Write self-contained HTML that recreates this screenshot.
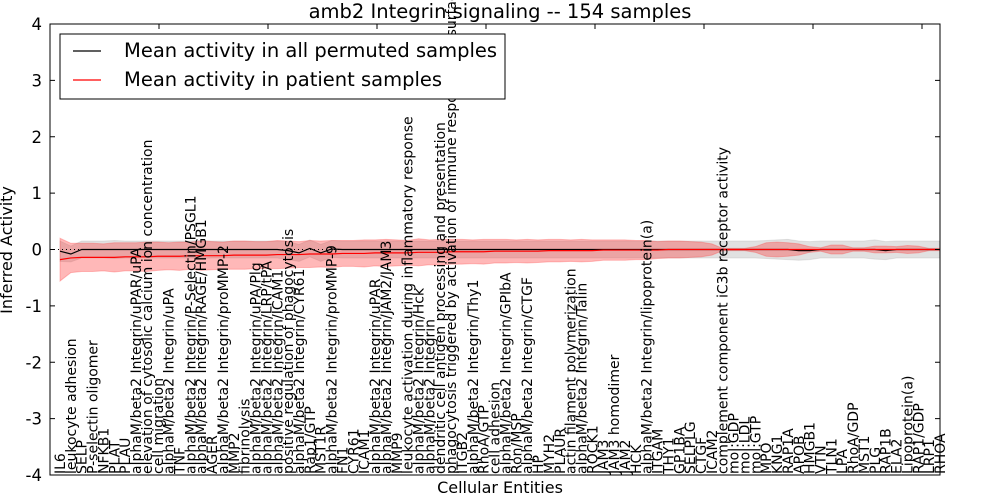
<!DOCTYPE html>
<html><head><meta charset="utf-8"><style>
body{margin:0;background:#fff;}
svg{display:block;font-family:"DejaVu Sans","Liberation Sans",sans-serif;font-stretch:normal;}
</style></head><body>
<svg id="chart" width="1000" height="500" style="overflow:visible"></svg>
<script>
const labels=["IL6","leukocyte adhesion","SELP","P-selectin oligomer","NFKB1","PLAT","PLAU","alphaM/beta2 Integrin/uPAR/uPA","elevation of cytosolic calcium ion concentration","cell migration","alphaM/beta2 Integrin/uPA","TNF","alphaM/beta2 Integrin/P-Selectin/PSGL1","alphaM/beta2 Integrin/RAGE/HMGB1","AGER","alphaM/beta2 Integrin/proMMP-2","MMP2","fibrinolysis","alphaM/beta2 Integrin/uPA/Plg","alphaM/beta2 Integrin/LRP/tPA","alphaM/beta2 Integrin/ICAM1","positive regulation of phagocytosis","alphaM/beta2 Integrin/CYR61","Rap1/GTP","MST1R","alphaM/beta2 Integrin/proMMP-9","FN1","CYR61","ICAM1","alphaM/beta2 Integrin/uPAR","alphaM/beta2 Integrin/JAM2/JAM3","MMP9","leukocyte activation during inflammatory response","alphaM/beta2 Integrin/Hck","alphaM/beta2 Integrin","dendritic cell antigen processing and presentation","phagocytosis triggered by activation of immune response cell surface activating receptor","ITGB2","alphaM/beta2 Integrin/Thy1","RhoA/GTP","cell adhesion","alphaM/beta2 Integrin/GPIbA","Ron/MSP","alphaM/beta2 Integrin/CTGF","HP","MYH2","PLAUR","actin filament polymerization","alphaM/beta2 Integrin/Talin","ROCK1","JAM3","JAM3 homodimer","JAM2","HCK","alphaM/beta2 Integrin/lipoprotein(a)","ITGAM","THY1","GP1BA","SELPLG","CTGF","ICAM2","complement component iC3b receptor activity","mol:GDP","mol:LDL","mol:GTP","MPO","KNG1","RAP1A","APOB","HMGB1","VTN","TLN1","LPA","RhoA/GDP","MST1","PLG","RAP1B","ELA2","Lipoprotein(a)","RAP1/GDP","LRP1","RHOA"];
const permMean=[-0.03,-0.08,0,0,0,0,0,0,0,0, 0,0,0,0,0,0,0,0,0,0, 0,-0.02,-0.06,0.02,-0.06,0.01,0,0,0,0, 0,0,0,0,0,0,0,0,0,0, 0,0,0,0,0,0,0,0,0,0, 0,0,0,0,0,0,0,0,0,0, 0,0,0,0,0,0,0,0,-0.02,-0.02, 0,0,0,0,0,0,-0.02,0,0,0, 0,0];
const permStd=[0.18,0.14,0.15,0.15,0.15,0.16,0.15,0.15,0.15,0.15, 0.15,0.15,0.15,0.16,0.15,0.15,0.15,0.15,0.15,0.15, 0.15,0.16,0.15,0.15,0.15,0.15,0.15,0.15,0.15,0.15, 0.15,0.15,0.15,0.15,0.15,0.15,0.15,0.15,0.15,0.15, 0.15,0.15,0.15,0.15,0.15,0.15,0.15,0.15,0.15,0.15, 0.15,0.15,0.15,0.15,0.15,0.15,0.15,0.15,0.15,0.15, 0.15,0.15,0.15,0.15,0.15,0.16,0.17,0.18,0.17,0.16, 0.15,0.15,0.15,0.15,0.15,0.17,0.16,0.15,0.15,0.15, 0.15,0.15];
const patMean=[-0.18,-0.15,-0.14,-0.14,-0.14,-0.14,-0.13,-0.13,-0.13,-0.12, -0.12,-0.12,-0.11,-0.11,-0.11,-0.11,-0.1,-0.1,-0.1,-0.1, -0.09,-0.09,-0.09,-0.08,-0.08,-0.08,-0.07,-0.07,-0.07,-0.06, -0.06,-0.06,-0.06,-0.05,-0.05,-0.05,-0.04,-0.04,-0.04,-0.04, -0.03,-0.03,-0.03,-0.03,-0.03,-0.02,-0.02,-0.02,-0.02,-0.02, -0.01,-0.01,-0.01,-0.01,-0.01,-0.01,0,0,0,0, 0,0,0,0,0,0,0,0,0,0, 0,0,0,0,0,0,0,0,0,0, 0,0];
const patStd=[0.38,0.26,0.25,0.25,0.24,0.26,0.25,0.25,0.26,0.25, 0.24,0.25,0.24,0.26,0.25,0.24,0.25,0.25,0.24,0.24, 0.25,0.24,0.23,0.24,0.23,0.24,0.23,0.23,0.24,0.23, 0.24,0.23,0.22,0.24,0.22,0.23,0.22,0.22,0.21,0.22, 0.21,0.21,0.2,0.21,0.2,0.2,0.2,0.19,0.2,0.19, 0.18,0.18,0.18,0.17,0.17, 0.15,0.15,0.15,0.14,0.13,0.1,0.02,0.02,0.02,0.05, 0.12,0.13,0.12,0.1,0.05,0.03,0.08,0.08,0.03,0.03, 0.06,0.06,0.05,0.07,0.06,0.02,0.02];
const yTicks=[-4,-3,-2,-1,0,1,2,3,4];

const NS="http://www.w3.org/2000/svg";
const svg=document.getElementById('chart');
const L=50,R=940,T=24,B=475;
const n=labels.length;
const x=i=>60+i*(880/(n-1));
const y=v=>T+(4-v)*(B-T)/8;
function mk(tag,attrs,parent){const e=document.createElementNS(NS,tag);for(const k in attrs)e.setAttribute(k,attrs[k]);(parent||svg).appendChild(e);return e;}
function band(mean,std,fill,op,name){
  let d="M"+mean.map((m,i)=>x(i)+","+y(m+std[i])).join("L");
  for(let i=mean.length-1;i>=0;i--)d+="L"+x(i)+","+y(mean[i]-std[i]);
  const p=mk('path',{d:d+"Z",fill:fill,'fill-opacity':op,stroke:fill,'stroke-opacity':op*0.8,'stroke-width':1});
  
  
}
function line(mean,col,name){
  const p=mk('path',{d:"M"+mean.map((m,i)=>x(i)+","+y(m)).join("L"),fill:'none',stroke:col,'stroke-width':1.2});
  
  
}
band(permMean,permStd,'#aaaaaa',0.35,'permuted-band');
band(patMean,patStd,'#ff3333',0.35,'patient-band');
const z=mk('line',{x1:L,x2:R,y1:y(0),y2:y(0),stroke:'#000','stroke-dasharray':'1,3','stroke-width':1});


line(permMean,'#000','permuted-mean-line');
line(patMean,'#ff0000','patient-mean-line');
const fr=mk('rect',{x:L,y:T,width:R-L,height:B-T,fill:'none',stroke:'#000','stroke-width':1});


yTicks.forEach(v=>{
  mk('line',{x1:L,x2:L+5,y1:y(v),y2:y(v),stroke:'#000'});
  mk('line',{x1:R-5,x2:R,y1:y(v),y2:y(v),stroke:'#000'});
  const t=mk('text',{x:L-8,y:y(v)+6,'text-anchor':'end','font-size':16.5});
  t.textContent=v;
  
  
});
for(let tx=L+109;tx<R;tx+=109){mk('line',{x1:tx,x2:tx,y1:T,y2:T+5,stroke:'#000'});}
labels.forEach((s,i)=>{
  const t=mk('text',{transform:`translate(${x(i)+5},${B-1}) rotate(-90)`,'font-size':14});
  t.textContent=s;
  
  
});
const lg=mk('g',{});


mk('rect',{x:60,y:34,width:445,height:65,fill:'#fff',stroke:'#000'},lg);
mk('line',{x1:73,x2:101,y1:51,y2:51,stroke:'#000','stroke-width':1.2},lg);
mk('line',{x1:73,x2:101,y1:80,y2:80,stroke:'#ff0000','stroke-width':1.2},lg);
const l1=mk('text',{x:124,y:57,'font-size':19.5},lg);l1.textContent="Mean activity in all permuted samples";


const l2=mk('text',{x:124,y:86,'font-size':19.5},lg);l2.textContent="Mean activity in patient samples";


const ti=mk('text',{x:500,y:18,'text-anchor':'middle','font-size':19.5});ti.textContent="amb2 Integrin signaling -- 154 samples";


const xl=mk('text',{x:500,y:493,'text-anchor':'middle','font-size':16});xl.textContent="Cellular Entities";


const yl=mk('text',{transform:'translate(12,250) rotate(-90)','text-anchor':'middle','font-size':16});yl.textContent="Inferred Activity";


</script>
</body></html>
